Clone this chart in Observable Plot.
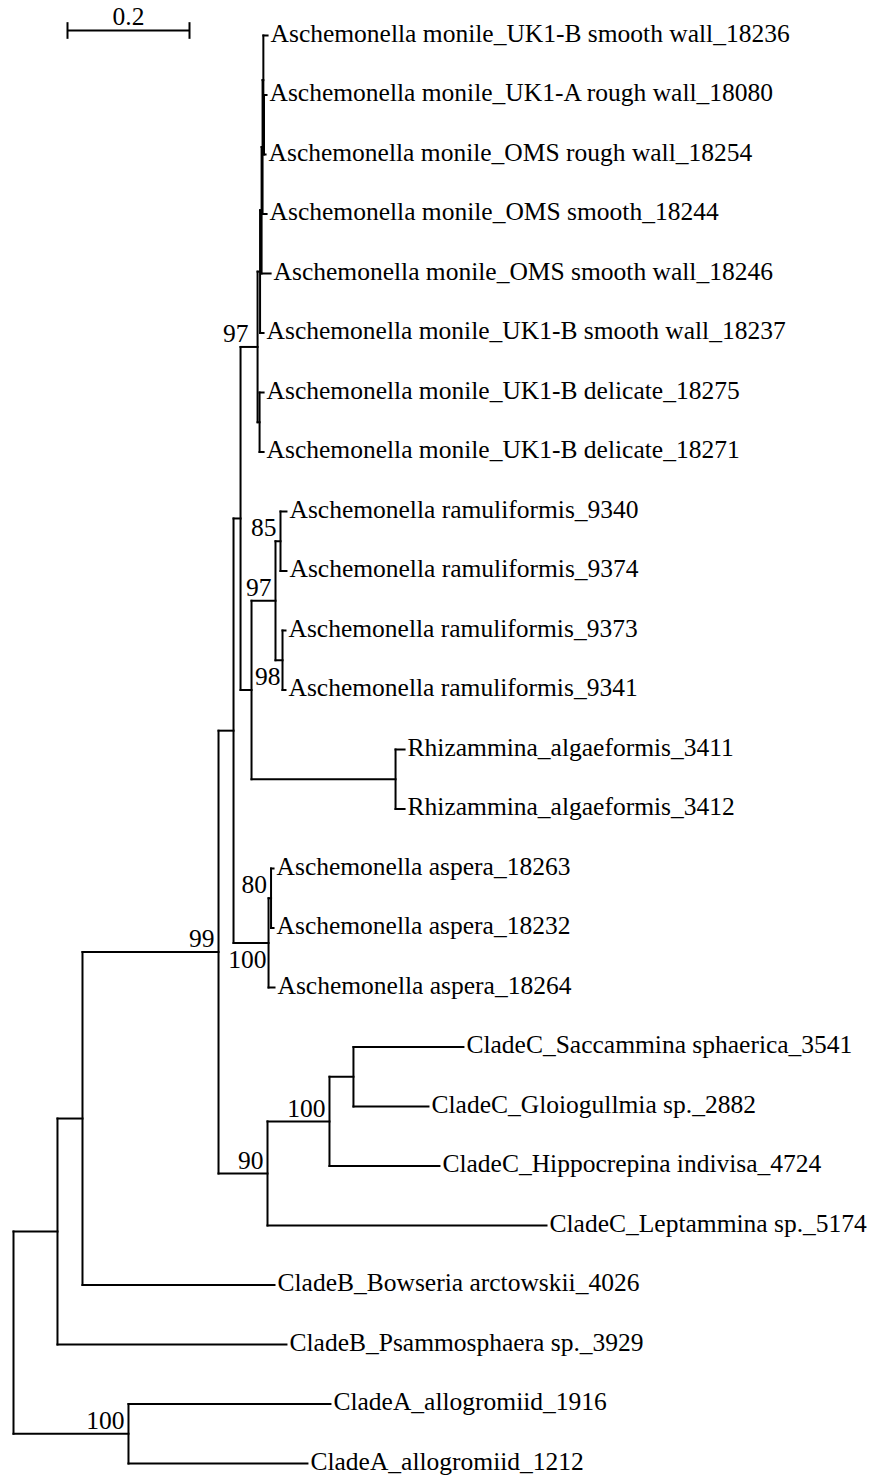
<!DOCTYPE html>
<html><head><meta charset="utf-8">
<script src="https://cdn.jsdelivr.net/npm/d3@7"></script>
<script src="https://cdn.jsdelivr.net/npm/@observablehq/plot@0.6"></script>
<style>body{margin:0;background:#fff}</style>
</head><body><div id="chart"></div>
<script>
// Tree nodes in pre-order (children listed top to bottom)
const nodeIds = ["root","n57","n82","n99","n233","n240","nMon97","nMA","nMC","nMD","nME","t18236","nMF","t18080","t18254","t18244","t18246","t18237","nMB","t18275","t18271","n250","nRam97","nRam85","t9340","t9374","nRam98","t9373","t9341","nRhiz","t3411","t3412","nAsp","nAsp80","t18263","t18232","t18264","n90","n100C","n353","tSacc","tGloi","tHipp","tLept","tBows","tPsam","nA","t1916","t1212"];
const parentIds = ["","root","n57","n82","n99","n233","n240","nMon97","nMA","nMC","nMD","nME","nME","nMF","nMF","nMD","nMC","nMA","nMon97","nMB","nMB","n240","n250","nRam97","nRam85","nRam85","nRam97","nRam98","nRam98","n250","nRhiz","nRhiz","n233","nAsp","nAsp80","nAsp80","nAsp","n99","n90","n100C","n353","n353","n100C","n90","n82","n57","root","nA","nA"];
const branchLengths = [0,0.0721,0.0410,0.2230,0.0246,0.0115,0.0279,0.0041,0.0025,0.0016,0.0013,0.0069,0.0011,0.0041,0.0025,0.0066,0.0148,0.0057,0.0033,0.0066,0.0066,0.0180,0.0393,0.0082,0.0098,0.0098,0.0115,0.0049,0.0049,0.2361,0.0148,0.0148,0.0574,0.0041,0.0041,0.0041,0.0098,0.0803,0.1016,0.0393,0.1803,0.1230,0.1803,0.4574,0.3148,0.3754,0.1885,0.3311,0.2934];
const tipLabels = {
  t18236:"Aschemonella monile_UK1-B smooth wall_18236",
  t18080:"Aschemonella monile_UK1-A rough wall_18080",
  t18254:"Aschemonella monile_OMS rough wall_18254",
  t18244:"Aschemonella monile_OMS smooth_18244",
  t18246:"Aschemonella monile_OMS smooth wall_18246",
  t18237:"Aschemonella monile_UK1-B smooth wall_18237",
  t18275:"Aschemonella monile_UK1-B delicate_18275",
  t18271:"Aschemonella monile_UK1-B delicate_18271",
  t9340:"Aschemonella ramuliformis_9340",
  t9374:"Aschemonella ramuliformis_9374",
  t9373:"Aschemonella ramuliformis_9373",
  t9341:"Aschemonella ramuliformis_9341",
  t3411:"Rhizammina_algaeformis_3411",
  t3412:"Rhizammina_algaeformis_3412",
  t18263:"Aschemonella aspera_18263",
  t18232:"Aschemonella aspera_18232",
  t18264:"Aschemonella aspera_18264",
  tSacc:"CladeC_Saccammina sphaerica_3541",
  tGloi:"CladeC_Gloiogullmia sp._2882",
  tHipp:"CladeC_Hippocrepina indivisa_4724",
  tLept:"CladeC_Leptammina sp._5174",
  tBows:"CladeB_Bowseria arctowskii_4026",
  tPsam:"CladeB_Psammosphaera sp._3929",
  t1916:"CladeA_allogromiid_1916",
  t1212:"CladeA_allogromiid_1212"
};
const supportValues = {n99:99, nMon97:97, nRam97:97, nRam85:85, nRam98:98, nAsp:100, nAsp80:80, n90:90, n100C:100, nA:100};
const scaleBarLength = 0.2;
const scaleBarLabel = "0.2";

// ---- layout ----
const nodes = nodeIds.map((id, i) => ({id, parent: parentIds[i], bl: branchLengths[i], children: []}));
const byId = new Map(nodes.map(n => [n.id, n]));
nodes.forEach(n => { if (n.parent) byId.get(n.parent).children.push(n); });
nodes.forEach(n => { n.depth = n.parent ? byId.get(n.parent).depth + n.bl : 0; });
let leafIndex = 0;
nodes.forEach(n => { if (!n.children.length) n.y = leafIndex++; });
function setY(n){ if (n.children.length){ n.children.forEach(setY); n.y = (n.children[0].y + n.children[n.children.length-1].y)/2; } return n.y; }
setY(byId.get("root"));

const horiz = nodes.filter(n => n.parent).map(n => ({x1: byId.get(n.parent).depth, x2: n.depth, y1: n.y, y2: n.y}));
const vert = nodes.filter(n => n.children.length).map(n => ({x1: n.depth, x2: n.depth, y1: n.children[0].y, y2: n.children[n.children.length-1].y}));
const tips = nodes.filter(n => !n.children.length).map(n => ({x: n.depth, y: n.y, label: tipLabels[n.id]}));
const below = new Set(["nAsp","nRam98"]);
const supAbove = nodes.filter(n => supportValues[n.id] != null && !below.has(n.id)).map(n => ({id: n.id, x: n.depth, y: n.y, label: String(supportValues[n.id])}));
const supBelow = nodes.filter(n => supportValues[n.id] != null && below.has(n.id)).map(n => ({x: n.depth, y: n.y, label: String(supportValues[n.id])}));

const pxPerUnit = 610;
const x0 = 13;
const sbStart = (67 - x0) / pxPerUnit;
const sbY = -0.084, sbTickH = 0.28;
const font = "Liberation Serif, Times New Roman, serif";
const fs = 25.5;

const chart = Plot.plot({
  width: 873, height: 1476,
  marginLeft: 0, marginRight: 0, marginTop: 0, marginBottom: 0,
  x: {domain: [0, (873 - x0) / pxPerUnit], range: [x0, 873], axis: null},
  y: {domain: [0, 24], range: [35, 1463], axis: null},
  style: {background: "#fff"},
  marks: [
    Plot.link(horiz, {x1: "x1", x2: "x2", y1: "y1", y2: "y2", stroke: "#000", strokeWidth: 2, strokeLinecap: "square"}),
    Plot.link(vert, {x1: "x1", x2: "x2", y1: "y1", y2: "y2", stroke: "#000", strokeWidth: 2, strokeLinecap: "square"}),
    Plot.text(tips, {x: "x", y: "y", text: "label", textAnchor: "start", dx: 3, dy: -2, fontSize: fs, fontFamily: font, fill: "#000"}),
    Plot.text(supAbove.filter(d => d.id !== "nMon97"), {x: "x", y: "y", text: "label", textAnchor: "end", dx: -4, dy: -13, fontSize: fs, fontFamily: font, fill: "#000"}),
    Plot.text(supAbove.filter(d => d.id === "nMon97"), {x: "x", y: "y", text: "label", textAnchor: "end", dx: -9, dy: -13, fontSize: fs, fontFamily: font, fill: "#000"}),
    Plot.text(supBelow, {x: "x", y: "y", text: "label", textAnchor: "end", dx: -2, dy: 17, fontSize: fs, fontFamily: font, fill: "#000"}),
    // scale bar
    Plot.link([{x1: sbStart, x2: sbStart + scaleBarLength, y1: sbY, y2: sbY}], {x1: "x1", x2: "x2", y1: "y1", y2: "y2", stroke: "#000", strokeWidth: 2}),
    Plot.link([{x: sbStart}, {x: sbStart + scaleBarLength}], {x1: "x", x2: "x", y1: () => sbY - sbTickH/2, y2: () => sbY + sbTickH/2, stroke: "#000", strokeWidth: 2}),
    Plot.text([{x: sbStart + scaleBarLength/2, label: scaleBarLabel}], {x: "x", y: () => sbY, text: "label", dy: -14, fontSize: fs, fontFamily: font, fill: "#000"})
  ]
});
document.getElementById("chart").appendChild(chart);
</script>
</body></html>
